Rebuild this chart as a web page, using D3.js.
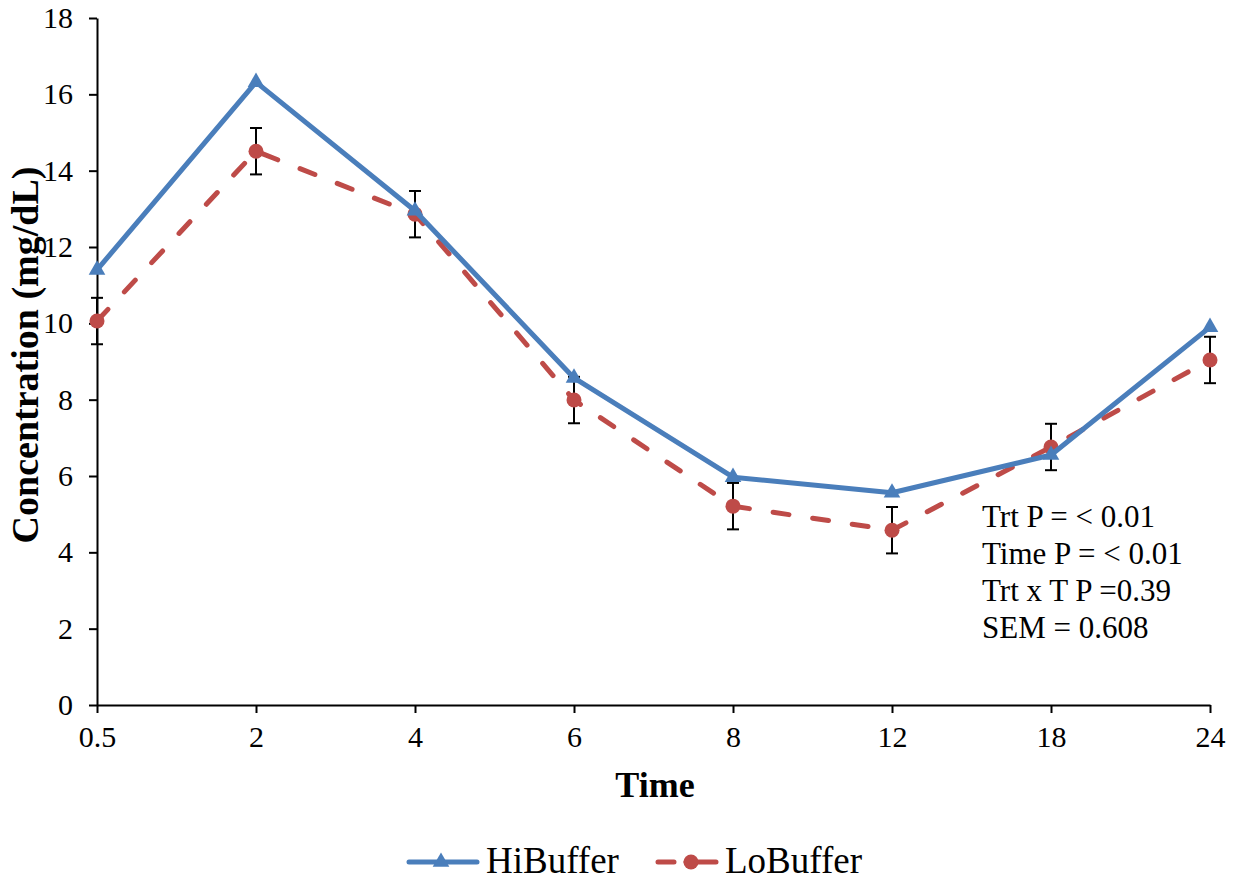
<!DOCTYPE html>
<html>
<head>
<meta charset="utf-8">
<script src="https://cdn.jsdelivr.net/npm/d3@7"></script>
<style>
  body { margin: 0; background: #fff; }
  svg { display: block; }
</style>
</head>
<body>
<div id="chart"></div>
<script>
// data
const times = ['0.5', '2', '4', '6', '8', '12', '18', '24'];
const hiBuffer = [11.40, 16.32, 12.95, 8.57, 5.97, 5.56, 6.55, 9.90];
const loBuffer = [10.06, 14.51, 12.86, 7.99, 5.21, 4.58, 6.76, 9.04];
const sem = 0.608;
const yTicks = [0, 2, 4, 6, 8, 10, 12, 14, 16, 18];
const notes = ['Trt P = < 0.01', 'Time P = < 0.01', 'Trt x T P =0.39', 'SEM = 0.608'];

const W = 1248, H = 882;
const margin = {top: 18, right: 38, bottom: 177, left: 97};
const width = W - margin.left - margin.right,
      height = H - margin.top - margin.bottom;

const blue = '#4a7ebb', red = '#be4b48';
const font = '"Liberation Serif", "Times New Roman", serif';

const svg = d3.select('#chart')
  .append('svg')
  .attr('width', W)
  .attr('height', H)
  .style('font-family', font);

const g = svg.append('g')
  .attr('transform', 'translate(' + margin.left + ',' + margin.top + ')');

const x = d3.scalePoint()
  .domain(times)
  .range([0, width]);

const y = d3.scaleLinear()
  .domain([0, 18])
  .range([height, 0]);

// axes
const yAxis = g.append('g')
  .call(d3.axisLeft(y).tickValues(yTicks).tickSize(8).tickSizeOuter(0).tickPadding(16));

const xAxis = g.append('g')
  .attr('transform', 'translate(0,' + height + ')')
  .call(d3.axisBottom(x).tickSize(8).tickSizeOuter(0).tickPadding(13));

[xAxis, yAxis].forEach(function (a) {
  a.selectAll('.domain').attr('stroke', '#000').attr('stroke-width', 2);
  a.selectAll('.tick line').attr('stroke', '#000').attr('stroke-width', 2);
  a.selectAll('.tick text')
    .attr('fill', '#000')
    .attr('font-size', 30)
    .attr('font-family', font);
});

// error bars (LoBuffer, +/- SEM), behind the lines
const eb = g.append('g').selectAll('g')
  .data(loBuffer)
  .enter().append('g')
  .attr('stroke', '#000')
  .attr('stroke-width', 2);

eb.append('line')
  .attr('x1', (d, i) => x(times[i])).attr('x2', (d, i) => x(times[i]))
  .attr('y1', d => y(d - sem)).attr('y2', d => y(d + sem));
eb.append('line')
  .attr('x1', (d, i) => x(times[i]) - 6).attr('x2', (d, i) => x(times[i]) + 6)
  .attr('y1', d => y(d - sem)).attr('y2', d => y(d - sem));
eb.append('line')
  .attr('x1', (d, i) => x(times[i]) - 6).attr('x2', (d, i) => x(times[i]) + 6)
  .attr('y1', d => y(d + sem)).attr('y2', d => y(d + sem));

const line = d3.line()
  .x((d, i) => x(times[i]))
  .y(d => y(d));

// LoBuffer
g.append('path')
  .datum(loBuffer)
  .attr('d', line)
  .attr('fill', 'none')
  .attr('stroke', red)
  .attr('stroke-width', 5)
  .attr('stroke-linecap', 'round')
  .attr('stroke-dasharray', '16,24');

g.append('g').selectAll('circle')
  .data(loBuffer)
  .enter().append('circle')
  .attr('cx', (d, i) => x(times[i]))
  .attr('cy', d => y(d))
  .attr('r', 7.5)
  .attr('fill', red);

// HiBuffer
g.append('path')
  .datum(hiBuffer)
  .attr('d', line)
  .attr('fill', 'none')
  .attr('stroke', blue)
  .attr('stroke-width', 5)
  .attr('stroke-linejoin', 'round');

const tri = d3.symbol().type(d3.symbolTriangle).size(120);

g.append('g').selectAll('path')
  .data(hiBuffer)
  .enter().append('path')
  .attr('d', tri)
  .attr('transform', (d, i) => 'translate(' + x(times[i]) + ',' + y(d) + ')')
  .attr('fill', blue);

// statistics note
g.append('text')
  .attr('x', 885)
  .attr('y', 509)
  .attr('font-size', 31)
  .attr('fill', '#000')
  .selectAll('tspan')
  .data(notes)
  .enter().append('tspan')
  .attr('x', 885)
  .attr('dy', (d, i) => i === 0 ? 0 : 37)
  .text(d => d);

// axis titles
svg.append('text')
  .attr('x', 655)
  .attr('y', 797)
  .attr('text-anchor', 'middle')
  .attr('font-size', 36)
  .attr('font-weight', 'bold')
  .text('Time');

svg.append('text')
  .attr('transform', 'translate(38,355) rotate(-90)')
  .attr('text-anchor', 'middle')
  .attr('font-size', 38)
  .attr('font-weight', 'bold')
  .text('Concentration (mg/dL)');

// legend
const leg = svg.append('g').attr('transform', 'translate(0,862)');

leg.append('line')
  .attr('x1', 409).attr('x2', 477)
  .attr('stroke', blue).attr('stroke-width', 5).attr('stroke-linecap', 'round');
leg.append('path')
  .attr('d', tri)
  .attr('transform', 'translate(441,0)')
  .attr('fill', blue);
leg.append('text')
  .attr('x', 486).attr('y', 11)
  .attr('font-size', 37)
  .text('HiBuffer');

leg.append('line')
  .attr('x1', 658).attr('x2', 716)
  .attr('stroke', red).attr('stroke-width', 5).attr('stroke-linecap', 'round')
  .attr('stroke-dasharray', '16,12,40');
leg.append('circle')
  .attr('cx', 691).attr('r', 7.5)
  .attr('fill', red);
leg.append('text')
  .attr('x', 725).attr('y', 11)
  .attr('font-size', 37)
  .text('LoBuffer');
</script>
</body>
</html>
